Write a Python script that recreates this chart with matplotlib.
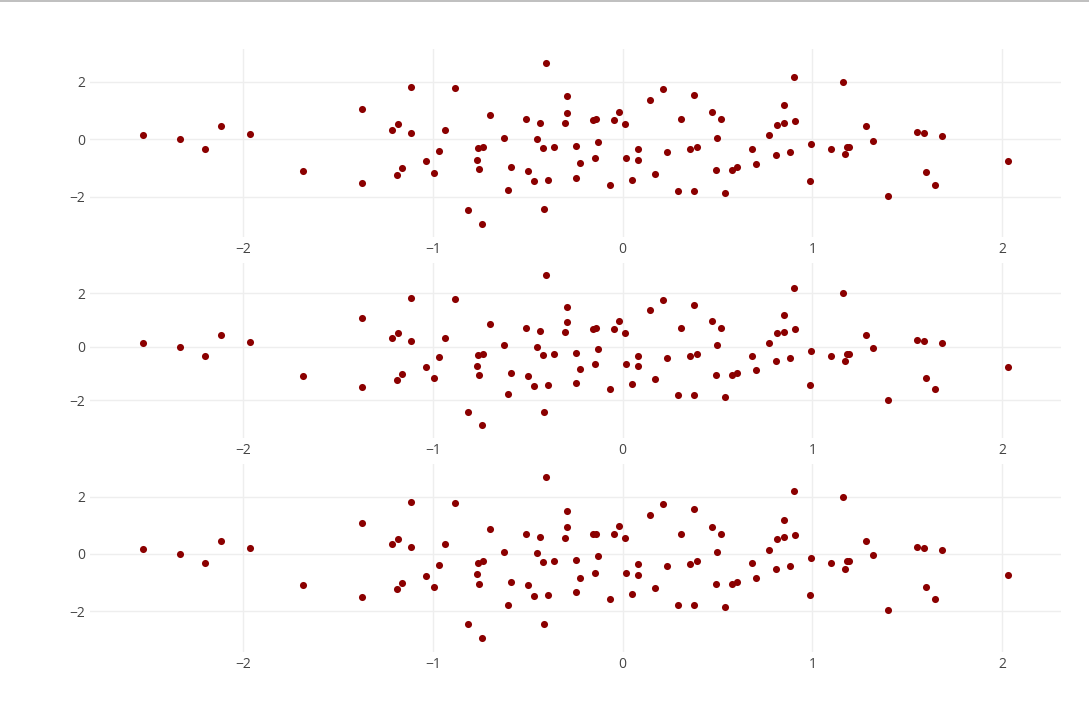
import matplotlib
matplotlib.use("Agg")
import matplotlib.pyplot as plt
from matplotlib.lines import Line2D

# point coordinates (same data in all 3 panels)
x_vals = [-2.530, -2.334, -2.203, -2.116, -1.963, -1.685, -0.403, -1.118, -0.884, -1.376,
          -0.295, -0.292, -0.700, -0.510, -0.436, -0.306, -1.183, -1.216, -1.114, -0.935,
          -0.626, -0.452, -0.761, -0.736, -0.422, -0.364, -0.248, -0.967, -1.037, -0.770,
          -0.225, -1.165, -1.191, -0.993, -0.759, -0.587, -0.501, -0.466, -0.394, -0.246,
          -1.373, -0.606, -0.815, -0.416, -0.743, -0.158, -0.142, -0.132, -0.144, -0.021,
          -0.046, 0.014, -0.065, 0.144, 0.211, 0.019, 0.079, 0.081, 0.049, 0.169,
          0.234, 0.306, 0.377, 0.356, 0.393, 0.292, 0.376, 0.471, 0.517, 0.499,
          0.490, 0.578, 0.604, 0.539, 0.683, 0.704, 0.771, 0.808, 0.815, 0.852,
          0.852, 0.903, 0.908, 0.882, 0.995, 0.990, 1.161, 1.100, 1.172, 1.184,
          1.195, 1.284, 1.321, 1.397, 1.553, 1.588, 1.682, 1.597, 1.646, 2.030]
y_vals = [0.157, 0.007, -0.321, 0.460, 0.202, -1.098, 2.676, 1.829, 1.784, 1.073,
          1.505, 0.934, 0.854, 0.704, 0.585, 0.564, 0.530, 0.331, 0.226, 0.331,
          0.063, 0.017, -0.307, -0.261, -0.296, -0.251, -0.226, -0.390, -0.760, -0.704,
          -0.829, -1.003, -1.237, -1.157, -1.038, -0.969, -1.087, -1.456, -1.422, -1.341,
          -1.505, -1.770, -2.446, -2.432, -2.934, 0.690, 0.714, -0.077, -0.655, 0.969,
          0.690, 0.540, -1.585, 1.366, 1.760, -0.655, -0.341, -0.725, -1.401, -1.202,
          -0.425, 0.714, 1.561, -0.341, -0.261, -1.794, -1.794, 0.958, 0.714, 0.063,
          -1.063, -1.063, -0.969, -1.854, -0.321, -0.843, 0.146, -0.530, 0.505, 1.192,
          0.575, 2.188, 0.655, -0.425, -0.146, -1.436, 2.003, -0.321, -0.516, -0.251,
          -0.251, 0.460, -0.042, -1.969, 0.251, 0.216, 0.132, -1.143, -1.575, -0.739]

x_ticks = [-2, -1, 0, 1, 2]
y_ticks = [-2, 0, 2]

plt.rcParams['font.family'] = ['Open Sans', 'DejaVu Sans']

fig = plt.figure(figsize=(10.89, 7.16), dpi=100)

# panel boxes in figure fractions (left, bottom, width, height)
panels = [
    [0.0826, 0.6686, 0.8914, 0.2630],
    [0.0826, 0.3880, 0.8914, 0.2451],
    [0.0826, 0.0898, 0.8914, 0.2626],
]

for box in panels:
    ax = fig.add_axes(box)
    ax.scatter(x_vals, y_vals, s=26, color="#8b0000", linewidths=0, zorder=3)
    ax.set_xlim(-2.808, 2.309)
    ax.set_ylim(-3.41, 3.15)
    ax.set_xticks(x_ticks)
    ax.set_yticks(y_ticks)
    ax.grid(True, color="#eeeeee", linewidth=1)
    ax.set_axisbelow(True)
    for s in ax.spines.values():
        s.set_visible(False)
    ax.tick_params(length=0, labelsize=10, labelcolor="#444444", pad=3.5)

# thin grey line along the very top of the image
fig.add_artist(Line2D([0, 1], [0.9993, 0.9993], color="#b4b4b4", linewidth=1.2,
                      transform=fig.transFigure))

fig.savefig("out.png", dpi=100)
